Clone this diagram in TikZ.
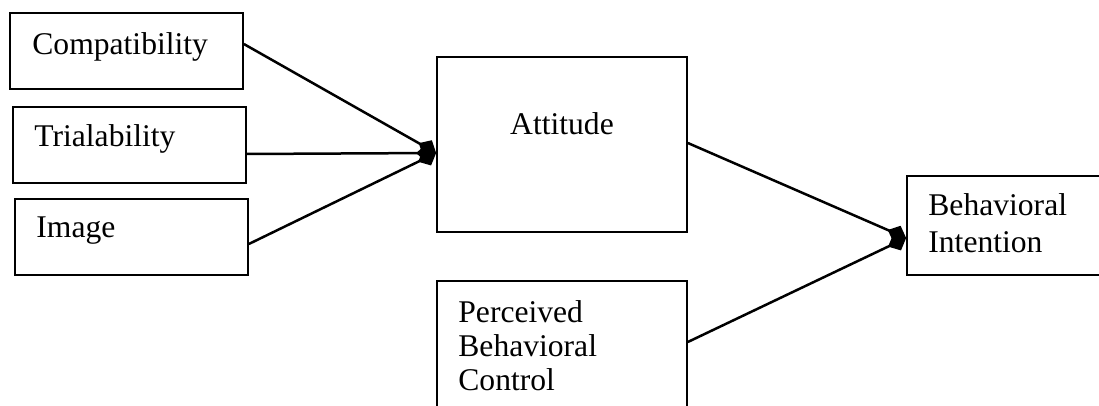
\documentclass[tikz,border=0pt]{standalone}
\usepackage{fontspec}
\setmainfont{Liberation Serif}
\usetikzlibrary{arrows.meta}

\tikzset{
  box/.style={draw, line width=0.85pt, inner sep=0pt},
  txt/.style={inner sep=0pt, anchor=base west, align=left, font=\fontsize{15.8}{18.5}\selectfont},
  link/.style={line width=1.25pt, -{Diamond[length=10pt,width=9pt,line join=miter]}}
}

\begin{document}
\begin{tikzpicture}[x=0.5pt, y=-0.5pt]
    \useasboundingbox (0,0) rectangle (1099,406);

    % Draw input boxes
    \foreach \n/\t/\cx/\cy/\tx/\ty in {comp/Compatibility/126.5/51/32/55, trial/Trialability/129.5/145/34/147, img/Image/131.5/237/36/238} {
      \node[box, minimum width=116.5pt, minimum height=38pt] (\n) at (\cx,\cy) {};
      \node[txt] (\n-text) at (\tx,\ty) {\t};
    }

    % Attitude
    \node[box, minimum width=125pt, minimum height=87.5pt] (att) at (562,144.5) {};
    \node[txt, anchor=base] (att-text) at (562,135) {Attitude};

    % Behavioral intention (base = last line)
    \node[box, minimum width=101.5pt, minimum height=49.5pt] (bi) at (1008.5,225.5) {};
    \node[txt] (bi-text) at (928,253) {Behavioral\\Intention};

    % Perceived behavioral control
    \node[box, minimum width=125pt, minimum height=69.5pt] (pbc) at (562,350.5) {};
    \node[txt, font=\fontsize{15.8}{17}\selectfont] (pbc-text) at (458,391) {Perceived\\Behavioral\\Control};

    % Draw arrows
    \foreach \n/\s in {comp/3.5, trial/-4.5, img/-3.5} {
      \draw[link] ([yshift=\s pt]\n.east) -- ([yshift=-4.25pt]att.west);
    }
    \draw[link] ([yshift=0.75pt]att.east) -- ([yshift=-6.25pt]bi.west);
    \draw[link] ([yshift=4.25pt]pbc.east) -- ([yshift=-6.25pt]bi.west);

\end{tikzpicture}
\end{document}
